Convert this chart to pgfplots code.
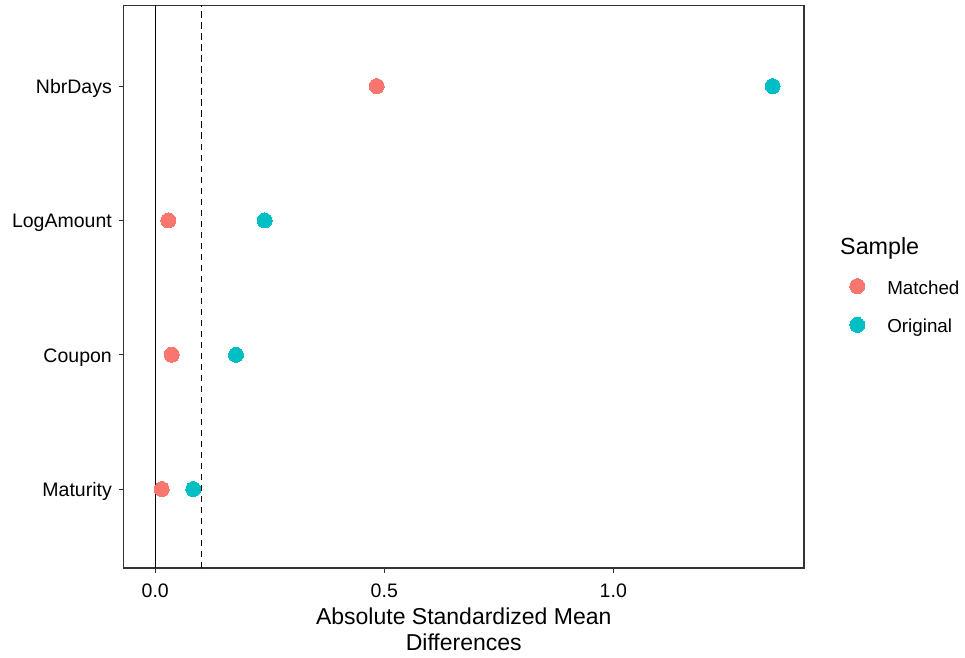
\documentclass[border=0pt]{standalone}
\usepackage{pgfplots}
\pgfplotsset{compat=1.18}
\usepackage{fontspec}
\setmainfont{Liberation Sans}
\definecolor{matched}{HTML}{F8766D}
\definecolor{original}{HTML}{00BFC4}
\definecolor{framec}{HTML}{333333}
\begin{document}
\begin{tikzpicture}[x=1pt,y=1pt]
\useasboundingbox (0,0) rectangle (965,657);
\begin{axis}[
  at={(123.5pt,89pt)}, anchor=south west,
  scale only axis, width=680.5pt, height=562.5pt,
  xmin=-0.0694, xmax=1.4164, ymin=0.412, ymax=4.6,
  xtick={0,0.5,1}, xticklabels={0.0,0.5,1.0},
  ytick={1,2,3,4}, yticklabels={Maturity,Coupon,LogAmount,NbrDays},
  xtick pos=lower, ytick pos=left,
  tick align=outside, major tick length=5pt,
  tick style={framec, line width=1pt},
  axis line style={framec, line width=1.5pt},
  ticklabel style={font=\fontsize{19.5}{23}\selectfont, text=black, inner sep=0pt},
  xticklabel style={anchor=base, yshift=-24pt},
  yticklabel style={anchor=base east, yshift=-7.5pt, xshift=-6.5pt},
  xlabel={Absolute Standardized Mean\\Differences},
  xlabel style={font=\fontsize{23}{26}\selectfont, align=center, at={(axis description cs:0.5,0)}, anchor=north, yshift=-39.7pt, inner sep=0pt},
  legend style={draw=none, fill=none, at={(axis description cs:1.0673,0.5207)}, anchor=north west, inner sep=0pt, outer sep=0pt, font=\fontsize{18.8}{22}\selectfont, row sep=15.8pt, nodes={inner sep=0pt, outer sep=0pt, text height=14pt, text depth=4pt}},
  legend cell align=left,
  legend image code/.code={\path[draw=none, fill=none, use as bounding box] (0pt,-1pt) rectangle (37.5pt,14pt); \draw[#1] plot coordinates {(7.5pt,3pt)};},
]
\addplot[black, line width=1pt, forget plot] coordinates {(0,0.412) (0,4.6)};
\addplot[black, line width=1pt, dash pattern=on 6.5pt off 4.5pt, forget plot] coordinates {(0.1,0.412) (0.1,4.6)};
\addplot[only marks, mark=*, mark size=7.5pt, color=matched, mark options={fill=matched, draw=matched, line width=0pt}]
  coordinates {(0.0140,1) (0.0358,2) (0.0284,3) (0.4834,4)};
\addlegendentry{Matched}
\addplot[only marks, mark=*, mark size=7.5pt, color=original, mark options={fill=original, draw=original, line width=0pt}]
  coordinates {(0.083,1) (0.1762,2) (0.2389,3) (1.348,4)};
\addlegendentry{Original}
\end{axis}
\node[anchor=base west, inner sep=0pt, font=\fontsize{23.3}{27}\selectfont] at (840,402.2) {Sample};
\end{tikzpicture}
\end{document}
